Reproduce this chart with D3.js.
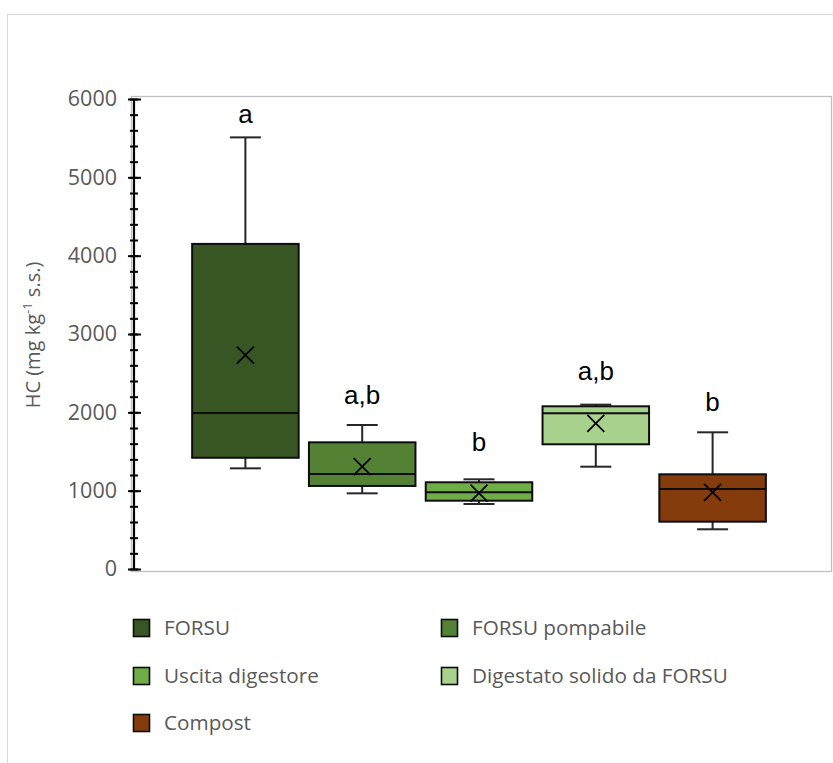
<!DOCTYPE html>
<html>
<head>
<meta charset="utf-8">
<script src="https://cdn.jsdelivr.net/npm/d3@7"></script>
<style>
  html, body { margin: 0; padding: 0; background: #fff; }
  svg { display: block; }
</style>
</head>
<body>
<svg id="chart" width="833" height="763"></svg>
<script>
// Sample groups and their five-number summaries (mg kg-1 s.s.)
const groups   = ["FORSU", "FORSU pompabile", "Uscita digestore", "Digestato solido da FORSU", "Compost"];
const mins     = [1285,  966,  830, 1306,  507];
const q1s      = [1420, 1060,  872, 1592,  604];
const medians  = [1990, 1213,  979, 1988, 1021];
const q3s      = [4150, 1617, 1107, 2077, 1209];
const maxs     = [5510, 1838, 1145, 2098, 1745];
const means    = [2730, 1306,  970, 1860,  979];
const letters  = ["a", "a,b", "b", "a,b", "b"];
const yTicks   = [0, 1000, 2000, 3000, 4000, 5000, 6000];
const yMinor   = d3.range(0, 6001, 200);

const colors = ["#375623", "#548235", "#70ad47", "#a9d18e", "#843c0c"];
const letterLift = [14, 21, 28, 25, 21];

const svg = d3.select("#chart");

// outer chart border
svg.append("rect")
  .attr("x", 7.5).attr("y", 14.5)
  .attr("width", 900).attr("height", 900)
  .attr("fill", "none").attr("stroke", "#d9d9d9").attr("stroke-width", 1);

const axisX = 134;
const y = d3.scaleLinear().domain([0, 6000]).range([569, 99]);
const x = d3.scaleBand().domain(groups).range([187, 771])
  .paddingInner(0.088).paddingOuter(0.044);

// plot frame
svg.append("rect")
  .attr("x", 131.5).attr("y", 96.5)
  .attr("width", 700).attr("height", 475)
  .attr("fill", "none").attr("stroke", "#bfbfbf").attr("stroke-width", 1.3);

// y axis: crossing major and minor ticks
const axes = svg.append("g").attr("transform", `translate(${axisX},0)`);
const styleAxis = g => {
  g.selectAll(".tick line").attr("stroke", "#000").attr("stroke-width", 2);
  g.select(".domain").remove();
};
axes.append("g").call(d3.axisLeft(y).tickValues(yMinor).tickSize(4).tickFormat("")).call(styleAxis);
axes.append("g").call(d3.axisRight(y).tickValues(yMinor).tickSize(4).tickFormat("")).call(styleAxis);
axes.append("g").call(d3.axisRight(y).tickValues(yTicks).tickSize(7).tickFormat("")).call(styleAxis);
axes.append("g").call(d3.axisLeft(y).tickValues(yTicks).tickSize(6).tickPadding(11).tickFormat(d3.format("d")))
  .call(styleAxis)
  .call(g => g.selectAll(".tick text")
    .attr("fill", "#595959")
    .style("font-family", "'Open Sans', sans-serif")
    .style("font-size", "21.5px"));
axes.append("line")
  .attr("x1", 0).attr("x2", 0)
  .attr("y1", y(6000)).attr("y2", y(0) + 1)
  .attr("stroke", "#000").attr("stroke-width", 2.2);

// y axis title
const title = svg.append("text")
  .attr("transform", `translate(40,${335}) rotate(-90)`)
  .attr("text-anchor", "middle")
  .attr("fill", "#595959")
  .style("font-family", "'Open Sans', sans-serif")
  .style("font-size", "20px");
title.append("tspan").text("HC (mg kg");
title.append("tspan").attr("dy", -8).style("font-size", "13px").text("-1");
title.append("tspan").attr("dy", 8).text(" s.s.)");

// boxes
const bw = x.bandwidth();
const capW = 31;
const box = svg.append("g").selectAll("g").data(groups).join("g")
  .attr("transform", d => `translate(${x(d) + bw / 2},0)`);

box.append("line")
  .attr("x1", 0).attr("x2", 0)
  .attr("y1", (d, i) => y(maxs[i])).attr("y2", (d, i) => y(q3s[i]))
  .attr("stroke", "#262626").attr("stroke-width", 2);
box.append("line")
  .attr("x1", 0).attr("x2", 0)
  .attr("y1", (d, i) => y(q1s[i])).attr("y2", (d, i) => y(mins[i]))
  .attr("stroke", "#262626").attr("stroke-width", 2);
box.append("line")
  .attr("x1", -capW / 2).attr("x2", capW / 2)
  .attr("y1", (d, i) => y(maxs[i])).attr("y2", (d, i) => y(maxs[i]))
  .attr("stroke", "#262626").attr("stroke-width", 2);
box.append("line")
  .attr("x1", -capW / 2).attr("x2", capW / 2)
  .attr("y1", (d, i) => y(mins[i])).attr("y2", (d, i) => y(mins[i]))
  .attr("stroke", "#262626").attr("stroke-width", 2);

box.append("rect")
  .attr("x", -bw / 2).attr("width", bw)
  .attr("y", (d, i) => y(q3s[i]))
  .attr("height", (d, i) => y(q1s[i]) - y(q3s[i]))
  .attr("fill", (d, i) => colors[i])
  .attr("stroke", "#0d0d0d").attr("stroke-width", 2);
box.append("line")
  .attr("x1", -bw / 2).attr("x2", bw / 2)
  .attr("y1", (d, i) => y(medians[i])).attr("y2", (d, i) => y(medians[i]))
  .attr("stroke", "#0d0d0d").attr("stroke-width", 2);

// mean markers
const m = 8.5;
box.append("path")
  .attr("d", (d, i) => {
    const cy = y(means[i]);
    return `M${-m},${cy - m}L${m},${cy + m}M${-m},${cy + m}L${m},${cy - m}`;
  })
  .attr("stroke", "#000").attr("stroke-width", 1.8).attr("fill", "none");

// significance letters
box.append("text")
  .attr("y", (d, i) => y(maxs[i]) - letterLift[i])
  .attr("text-anchor", "middle")
  .style("font-family", "'Liberation Sans', Arial, sans-serif")
  .style("font-size", "26px")
  .attr("fill", "#000")
  .text((d, i) => letters[i]);

// legend
const legendPos = [[133, 628], [441, 628], [133, 676], [441, 676], [133, 723]];
const lg = svg.append("g").selectAll("g").data(groups).join("g")
  .attr("transform", (d, i) => `translate(${legendPos[i][0]},${legendPos[i][1]})`);
lg.append("rect")
  .attr("x", 0.5).attr("y", -8.5).attr("width", 16).attr("height", 17)
  .attr("fill", (d, i) => colors[i])
  .attr("stroke", "#0d0d0d").attr("stroke-width", 1.6);
lg.append("text")
  .attr("x", 31).attr("dy", "0.35em")
  .attr("fill", "#595959")
  .style("font-family", "'Open Sans', sans-serif")
  .style("font-size", "20.7px")
  .text(d => d);
</script>
</body>
</html>
